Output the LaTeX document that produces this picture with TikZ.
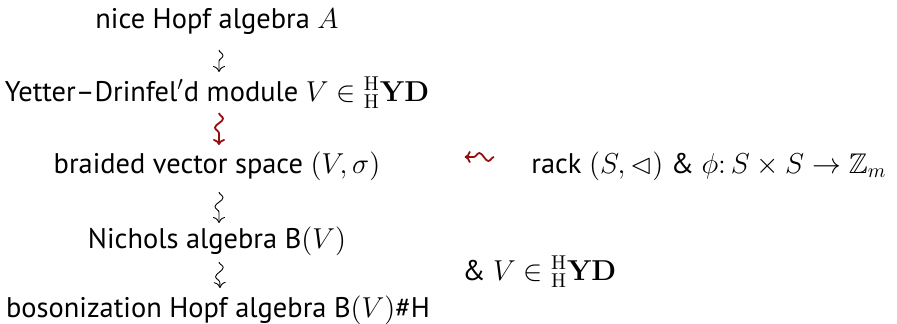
\documentclass[tikz,border=0pt]{standalone}
\usepackage{amssymb}
\usepackage[no-math]{fontspec}
\setmainfont{PT Sans}
\usetikzlibrary{decorations.pathmorphing,arrows.meta,calc}
\definecolor{dred}{RGB}{150,15,15}
\begin{document}
\begin{tikzpicture}[x=0.5pt,y=-0.5pt, font=\fontsize{14.2}{17}\selectfont,
  lbl/.style={anchor=base, inner sep=0pt},
  lblw/.style={anchor=base west, inner sep=0pt},
  sq/.style={-{To[length=3pt,width=6pt]}, decorate,
    decoration={snake, amplitude=2pt, segment length=9pt, post length=2.5pt},
    line width=0.45pt},
  redsq/.style={sq, draw=dred, line width=0.9pt}]
\useasboundingbox (0,0) rectangle (897,323);
\node[lbl] (a) at (217,28) {nice Hopf algebra $A$};
\node[lbl] (b) at (217,101) {Yetter--Drinfel$'$d module $V\in{}^{\mathrm{H}}_{\mathrm{H}}\mathbf{YD}$};
\node[lbl] (c) at (217,173) {braided vector space $(V,\sigma)$};
\node[lbl] (d) at (217,248) {Nichols algebra B$(V)$};
\node[lbl] (e) at (218,317) {bosonization Hopf algebra B$(V)$\#H};
\node[lblw] (r) at (531,173) {rack $(S,\lhd)$ \& $\phi\colon S\times S\to\mathbb{Z}_m$};
\node[lblw] (s) at (462,280) {\& $V\in{}^{\mathrm{H}}_{\mathrm{H}}\mathbf{YD}$};
\draw[sq] ($(a.base)+(2,22)$) -- ($(b.base)+(2,-29)$);
\draw[redsq] ($(b.base)+(2,12)$) -- ($(c.base)+(2,-28)$);
\draw[sq] ($(c.base)+(2,19)$) -- ($(d.base)+(2,-25)$);
\draw[sq] ($(d.base)+(2,14)$) -- ($(e.base)+(2,-29)$);
\draw[redsq] ($(r.base west)+(-37,-16)$) -- ($(c.base east)+(84,-16)$);
\end{tikzpicture}
\end{document}
